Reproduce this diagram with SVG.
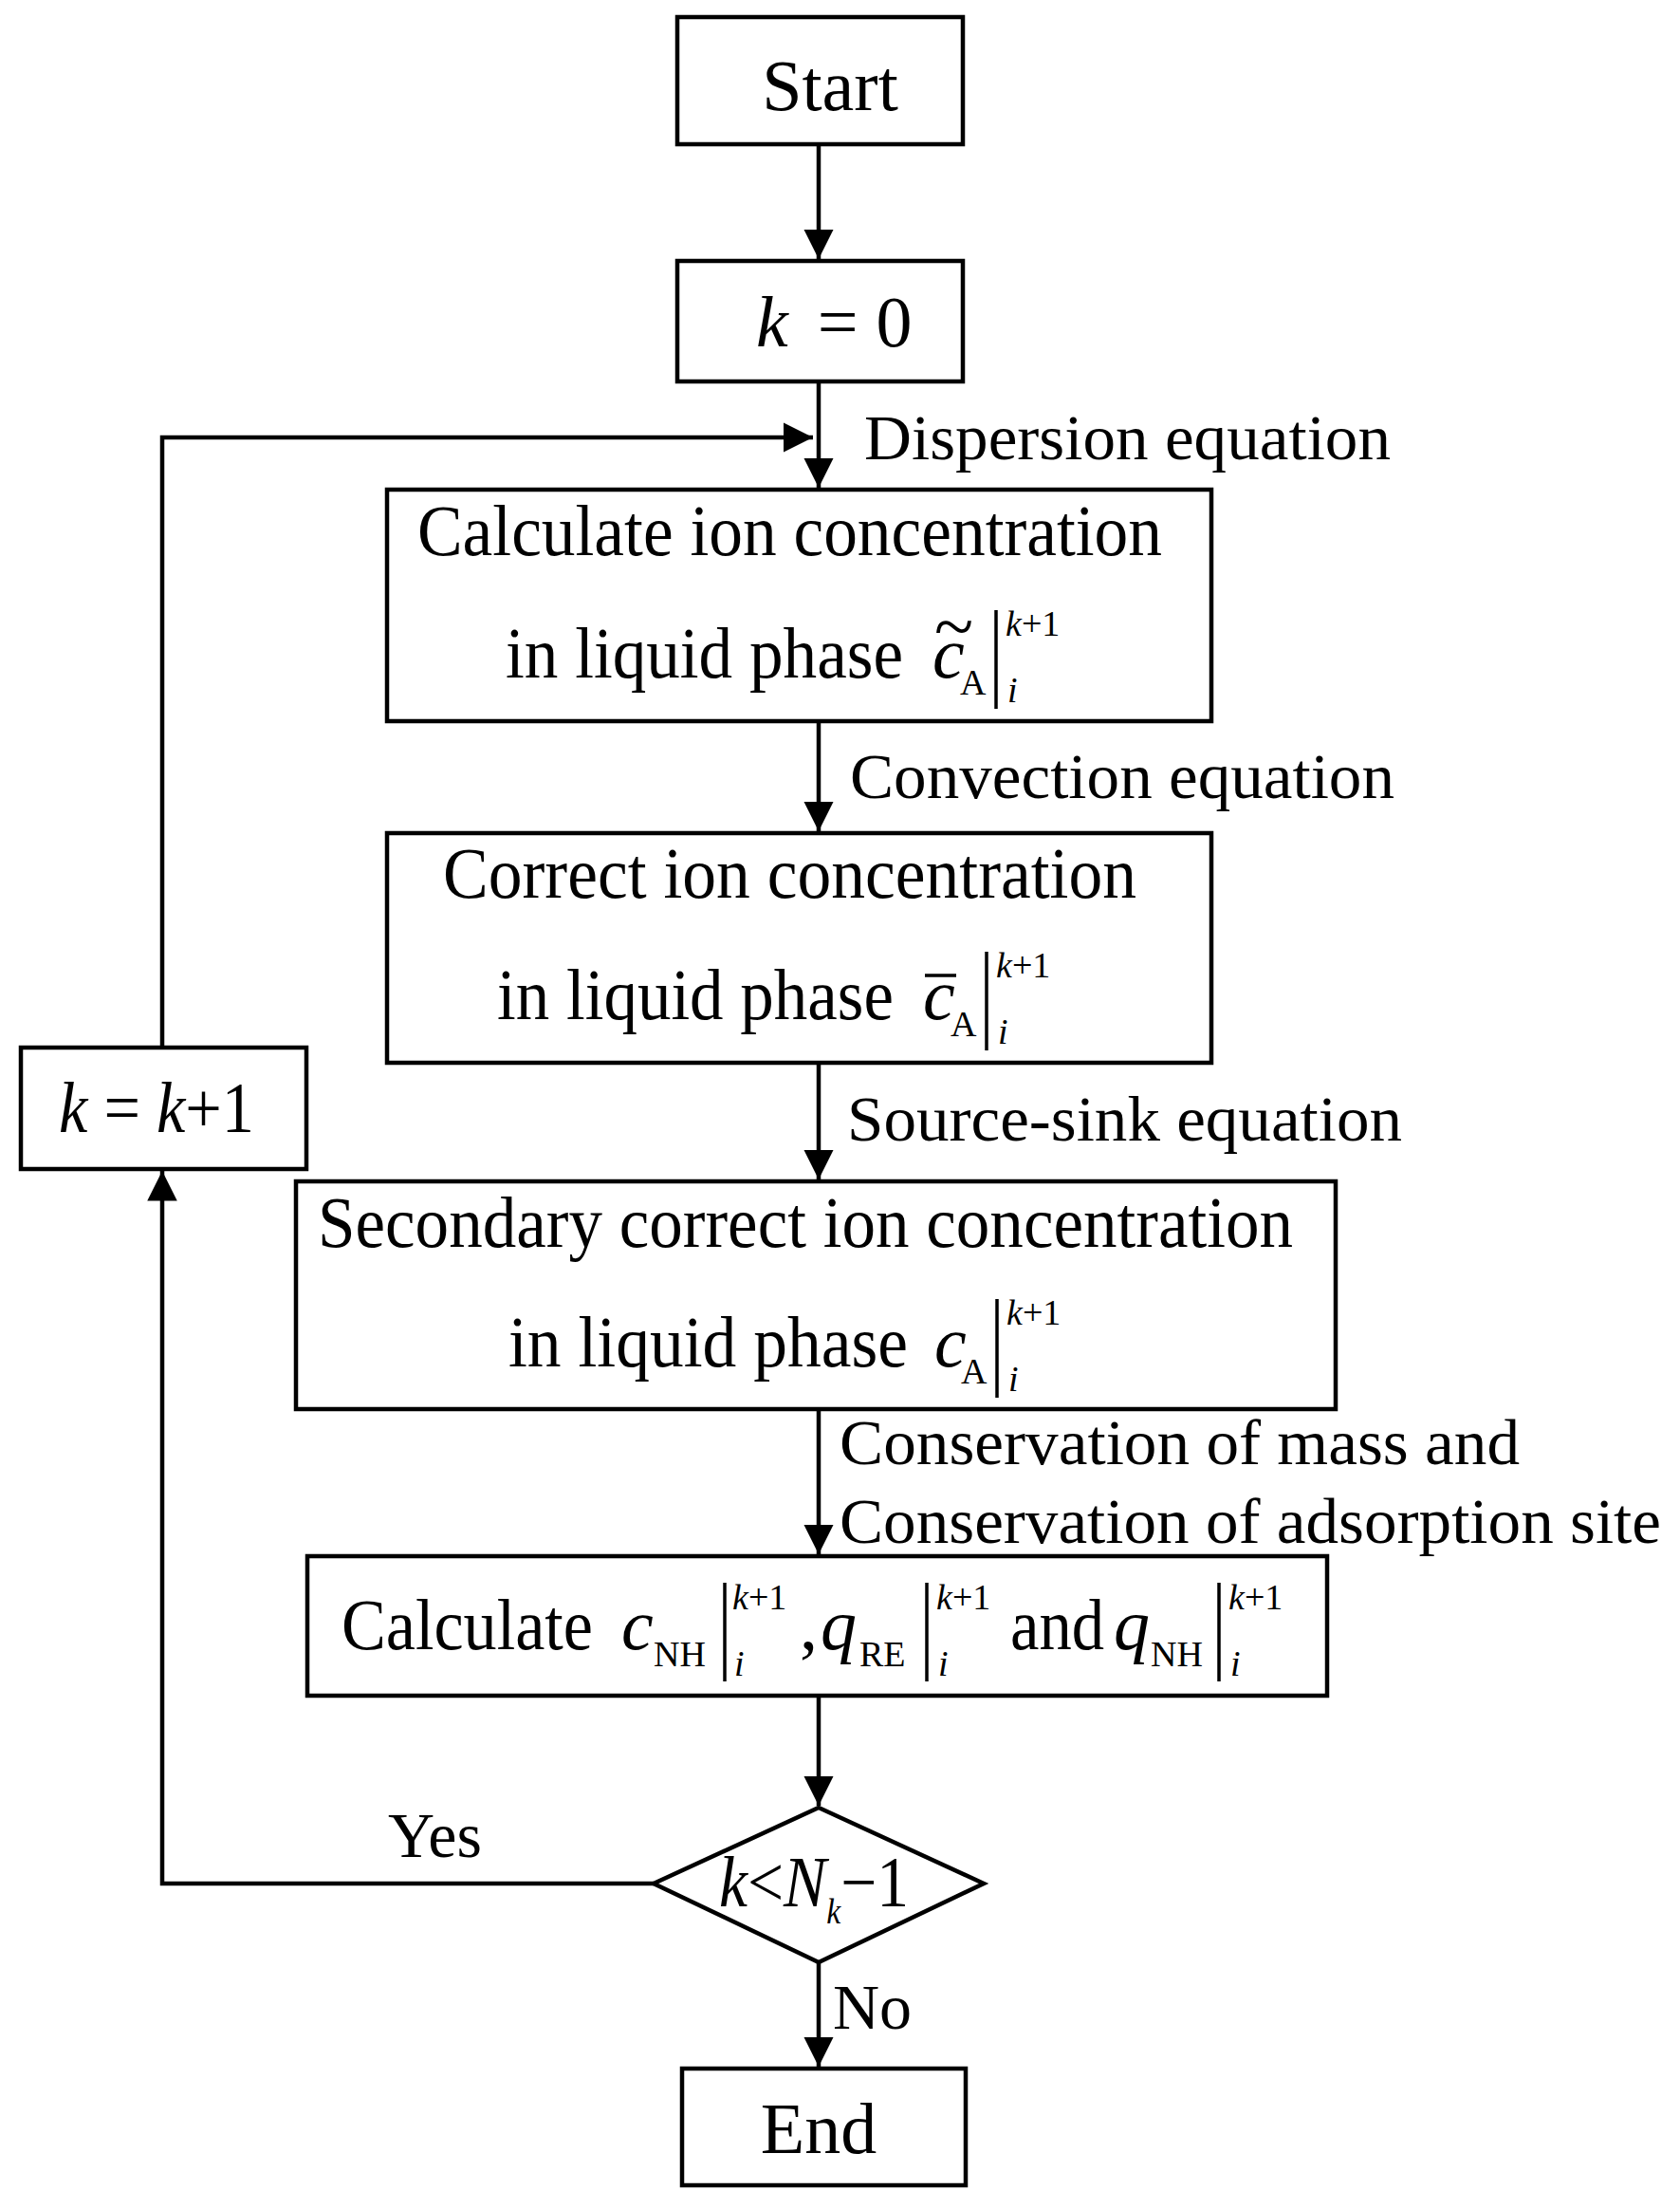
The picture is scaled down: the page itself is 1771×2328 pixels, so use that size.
<svg xmlns="http://www.w3.org/2000/svg" width="1771" height="2328" viewBox="0 0 1771 2328">
<style>
.b{fill:#fff;stroke:#000;stroke-width:4.5}
.l{fill:none;stroke:#000;stroke-width:4.5}
.v{fill:none;stroke:#000;stroke-width:3.5}
text{font-family:"Liberation Serif","Times New Roman",serif;fill:#000}
.m{font-size:76px}
.s{font-size:68px}
.sm{font-size:38px}
.i{font-style:italic}
</style>
<defs>
<marker id="ah" viewBox="0 0 10 10" refX="10" refY="5" markerWidth="7" markerHeight="7" markerUnits="strokeWidth" orient="auto"><path d="M0,0 L10,5 L0,10 Z" fill="#000"/></marker>
</defs>
<g id="connectors">
<line class="l" x1="863" y1="152" x2="863" y2="273" marker-end="url(#ah)"/>
<line class="l" x1="863" y1="402" x2="863" y2="514" marker-end="url(#ah)"/>
<polyline class="l" points="171,1104 171,461 857,461" marker-end="url(#ah)"/>
<line class="l" x1="863" y1="760" x2="863" y2="876" marker-end="url(#ah)"/>
<line class="l" x1="863" y1="1120" x2="863" y2="1243" marker-end="url(#ah)"/>
<line class="l" x1="863" y1="1485" x2="863" y2="1638" marker-end="url(#ah)"/>
<line class="l" x1="863" y1="1787" x2="863" y2="1903" marker-end="url(#ah)"/>
<polyline class="l" points="689,1985 171,1985 171,1234" marker-end="url(#ah)"/>
<line class="l" x1="863" y1="2068" x2="863" y2="2178" marker-end="url(#ah)"/>
<text class="s" x="911" y="484" textLength="555" lengthAdjust="spacingAndGlyphs">Dispersion equation</text>
<text class="s" x="896" y="841" textLength="574" lengthAdjust="spacingAndGlyphs">Convection equation</text>
<text class="s" x="893" y="1202" textLength="585" lengthAdjust="spacingAndGlyphs">Source-sink equation</text>
<text class="s" x="885" y="1543" textLength="717" lengthAdjust="spacingAndGlyphs">Conservation of mass and</text>
<text class="s" x="885" y="1626" textLength="866" lengthAdjust="spacingAndGlyphs">Conservation of adsorption site</text>
<text class="s" x="409" y="1957">Yes</text>
<text class="s" x="878" y="2138">No</text>
</g>
<g id="start">
<rect class="b" x="714" y="18" width="301" height="134"/>
<text class="m" x="875" y="116" text-anchor="middle">Start</text>
</g>
<g id="k0">
<rect class="b" x="714" y="275" width="301" height="127"/>
<text class="m" x="797" y="365"><tspan class="i">k</tspan> <tspan dx="12">= 0</tspan></text>
</g>
<g id="calc1">
<rect class="b" x="408" y="516" width="869" height="244"/>
<text class="m" x="440" y="585" textLength="785" lengthAdjust="spacingAndGlyphs">Calculate ion concentration</text>
<text class="m" x="533" y="714" textLength="419" lengthAdjust="spacingAndGlyphs">in liquid phase</text>
<text class="m i" x="983" y="714">c</text>
<text class="m" x="985" y="686">~</text>
<text class="sm" x="1012" y="732">A</text>
<line class="v" x1="1050" y1="643" x2="1050" y2="747"/>
<text class="sm" x="1060" y="670"><tspan class="i">k</tspan>+1</text>
<text class="sm i" x="1062" y="740">i</text>
</g>
<g id="correct">
<rect class="b" x="408" y="878" width="869" height="242"/>
<text class="m" x="467" y="946" textLength="731" lengthAdjust="spacingAndGlyphs">Correct ion concentration</text>
<text class="m" x="524" y="1074" textLength="418" lengthAdjust="spacingAndGlyphs">in liquid phase</text>
<text class="m i" x="973" y="1074">c</text>
<line class="v" x1="975" y1="1028" x2="1008" y2="1028"/>
<text class="sm" x="1002" y="1092">A</text>
<line class="v" x1="1040" y1="1003" x2="1040" y2="1107"/>
<text class="sm" x="1050" y="1030"><tspan class="i">k</tspan>+1</text>
<text class="sm i" x="1052" y="1100">i</text>
</g>
<g id="kinc">
<rect class="b" x="22" y="1104" width="301" height="128"/>
<text class="m" x="62" y="1193" textLength="206" lengthAdjust="spacingAndGlyphs"><tspan class="i">k</tspan> = <tspan class="i">k</tspan>+1</text>
</g>
<g id="secondary">
<rect class="b" x="312" y="1245" width="1096" height="240"/>
<text class="m" x="335" y="1314" textLength="1028" lengthAdjust="spacingAndGlyphs">Secondary correct ion concentration</text>
<text class="m" x="536" y="1440" textLength="421" lengthAdjust="spacingAndGlyphs">in liquid phase</text>
<text class="m i" x="985" y="1440">c</text>
<text class="sm" x="1013" y="1458">A</text>
<line class="v" x1="1051" y1="1369" x2="1051" y2="1473"/>
<text class="sm" x="1061" y="1396"><tspan class="i">k</tspan>+1</text>
<text class="sm i" x="1063" y="1466">i</text>
</g>
<g id="calc2">
<rect class="b" x="324" y="1640" width="1075" height="147"/>
<text class="m" x="360" y="1738" textLength="265" lengthAdjust="spacingAndGlyphs">Calculate</text>
<text class="m i" x="655" y="1738">c</text>
<text class="sm" x="689" y="1756">NH</text>
<line class="v" x1="764" y1="1668" x2="764" y2="1772"/>
<text class="sm" x="772" y="1696"><tspan class="i">k</tspan>+1</text>
<text class="sm i" x="774" y="1766">i</text>
<text class="m" x="843" y="1738">,</text>
<text class="m i" x="865" y="1738">q</text>
<text class="sm" x="906" y="1756">RE</text>
<line class="v" x1="977" y1="1668" x2="977" y2="1772"/>
<text class="sm" x="987" y="1696"><tspan class="i">k</tspan>+1</text>
<text class="sm i" x="989" y="1766">i</text>
<text class="m" x="1065" y="1738" textLength="99" lengthAdjust="spacingAndGlyphs">and</text>
<text class="m i" x="1174" y="1738">q</text>
<text class="sm" x="1213" y="1756">NH</text>
<line class="v" x1="1285" y1="1668" x2="1285" y2="1772"/>
<text class="sm" x="1295" y="1696"><tspan class="i">k</tspan>+1</text>
<text class="sm i" x="1297" y="1766">i</text>
</g>
<g id="decision">
<polygon class="b" points="863,1905 1037,1985 863,2068 689,1985"/>
<text class="m" x="758" y="2009" textLength="200" lengthAdjust="spacingAndGlyphs"><tspan class="i">k</tspan>&lt;<tspan class="i">N</tspan><tspan class="sm i" dy="18">k</tspan><tspan dy="-18">−1</tspan></text>
</g>
<g id="end">
<rect class="b" x="719" y="2180" width="299" height="123"/>
<text class="m" x="863" y="2269" text-anchor="middle">End</text>
</g>
</svg>
